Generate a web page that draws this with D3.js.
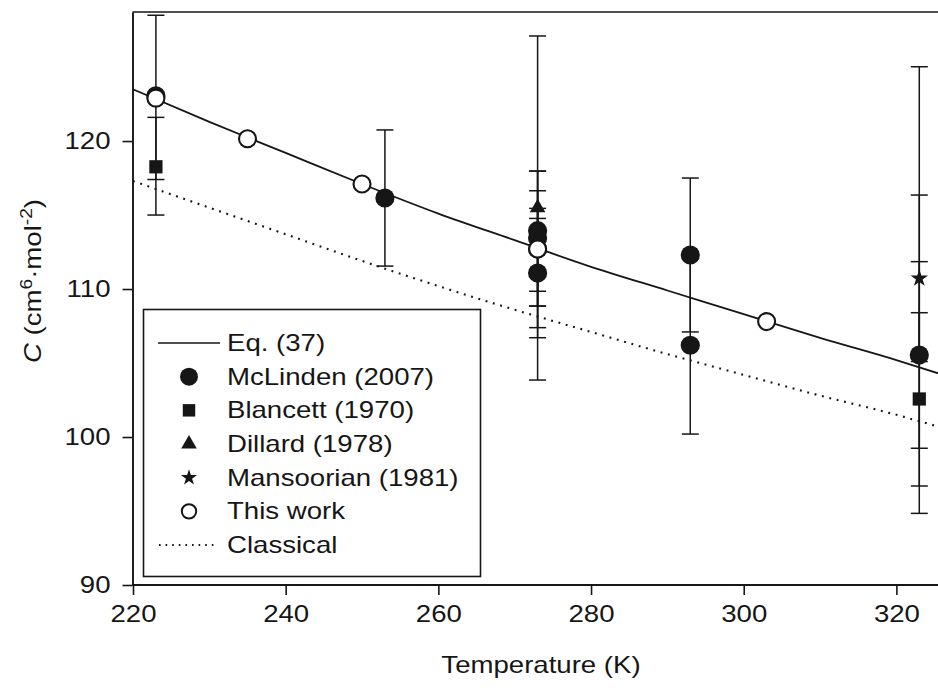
<!DOCTYPE html>
<html><head><meta charset="utf-8">
<script src="https://cdn.jsdelivr.net/npm/d3@7"></script>
<style>body{margin:0;background:#fff}svg{display:block}</style>
</head><body>
<svg id="c" width="938" height="688"></svg>
<script>
// ---- data ----
const xTicks = [220, 240, 260, 280, 300, 320];
const yTicks = [90, 100, 110, 120];
const eqT   = [220, 230, 240, 250, 260, 270, 280, 290, 300, 310, 320, 325.5];
const eqC   = [123.5, 121.3, 119.2, 117.1, 115.1, 113.3, 111.5, 109.9, 108.3, 106.7, 105.2, 104.3];
const clT   = [220, 230, 240, 250, 260, 270, 280, 290, 300, 310, 320, 325.5];
const clC   = [117.3, 115.5, 113.7, 111.9, 110.2, 108.6, 107.1, 105.6, 104.2, 102.8, 101.5, 100.7];
const mclT  = [223, 253, 273, 273, 273, 273, 293, 293, 323];
const mclC  = [123.05, 116.15, 113.94, 113.45, 112.7, 111.08, 112.3, 106.2, 105.54];
const blaT  = [223, 323];
const blaC  = [118.26, 102.57];
const dilT  = [273];
const dilC  = [115.5];
const manT  = [323];
const manC  = [110.72];
const twT   = [223, 235, 250, 273, 303];
const twC   = [122.9, 120.15, 117.1, 112.7, 107.8];
const errT  = [223, 223, 253, 273, 273, 273, 273, 273, 273, 293, 293, 323, 323, 323, 323];
const errLo = [117.4, 115.0, 111.55, 103.85, 109.85, 108.85, 108.85, 107.39, 106.71, 107.1, 100.2, 94.84, 105.1, 99.24, 96.69];
const errHi = [128.5, 121.6, 120.75, 127.1, 117.97, 117.97, 116.64, 114.77, 115.45, 117.5, 112.2, 125.02, 116.35, 111.85, 108.4];
const legendLabels = ["Eq. (37)", "McLinden (2007)", "Blancett (1970)", "Dillard (1978)", "Mansoorian (1981)", "This work", "Classical"];

// ---- layout ----
const SX = 1.2; // horizontal text stretch
const FS = 23;
const FONT = "'Liberation Sans', Arial, sans-serif";
const svg = d3.select("#c");
const x = d3.scaleLinear([220, 325.45], [133, 938]);
const y = d3.scaleLinear([90, 128.72], [585, 12]);
const ink = "#161616";

// frame (top line)
svg.append("line").attr("x1", 132.5).attr("x2", 938).attr("y1", 12).attr("y2", 12)
  .attr("stroke", ink).attr("stroke-width", 1.7);

// axes
const gx = svg.append("g").attr("transform", "translate(0,585)")
  .call(d3.axisBottom(x).tickValues(xTicks).tickSize(10).tickSizeOuter(0));
const gy = svg.append("g").attr("transform", "translate(132.5,0)")
  .call(d3.axisLeft(y).tickValues(yTicks).tickSize(10).tickSizeOuter(0));
[gx, gy].forEach(g => {
  g.select(".domain").attr("stroke", ink).attr("stroke-width", 1.9);
  g.selectAll(".tick line").attr("stroke", ink).attr("stroke-width", 1.6);
  g.selectAll("text").attr("font-family", FONT).attr("font-size", FS).attr("fill", ink);
});
gx.selectAll(".tick text").attr("y", 21).attr("transform", `scale(${SX},1)`);
gy.selectAll(".tick text").attr("x", -22 / SX).attr("transform", `scale(${SX},1)`);
gx.select(".domain").attr("d", `M${x(220) - 1},0H938`);

// axis titles
svg.append("g").attr("transform", "translate(541,665)")
  .append("text").attr("transform", `scale(${SX},1)`).attr("text-anchor", "middle").attr("dy", "0.35em")
  .attr("font-family", FONT).attr("font-size", FS).attr("fill", ink).text("Temperature (K)");
const yt = svg.append("g").attr("transform", "translate(33,281) rotate(-90)")
  .append("text").attr("transform", `scale(${SX},1)`).attr("text-anchor", "middle").attr("dy", "0.36em")
  .attr("font-family", FONT).attr("font-size", FS).attr("fill", ink);
yt.append("tspan").attr("font-style", "italic").text("C");
yt.append("tspan").text(" (cm");
yt.append("tspan").attr("font-size", 16).attr("dy", -9).text("6");
yt.append("tspan").attr("dy", 9).text("·mol");
yt.append("tspan").attr("font-size", 16).attr("dy", -9).text("-2");
yt.append("tspan").attr("dy", 9).text(")");

// clip for plot region
svg.append("clipPath").attr("id", "pc").append("rect").attr("x", 133).attr("y", 12).attr("width", 805).attr("height", 573);
const plot = svg.append("g").attr("clip-path", "url(#pc)");

const line = d3.line().x(d => x(d[0])).y(d => y(d[1])).curve(d3.curveMonotoneX);
plot.append("path").datum(clT.map((t, i) => [t, clC[i]])).attr("d", line)
  .attr("fill", "none").attr("stroke", ink).attr("stroke-width", 2.1).attr("stroke-dasharray", "1.9,5.7");
plot.append("path").datum(eqT.map((t, i) => [t, eqC[i]])).attr("d", line)
  .attr("fill", "none").attr("stroke", ink).attr("stroke-width", 1.8);

// error bars
const eb = plot.append("g").attr("stroke", ink).attr("stroke-width", 1.5);
errT.forEach((t, i) => {
  const cx = x(t), y1 = y(errLo[i]), y2 = y(errHi[i]);
  eb.append("line").attr("x1", cx).attr("x2", cx).attr("y1", y1).attr("y2", y2);
  eb.append("line").attr("x1", cx - 8.5).attr("x2", cx + 8.5).attr("y1", y1).attr("y2", y1);
  eb.append("line").attr("x1", cx - 8.5).attr("x2", cx + 8.5).attr("y1", y2).attr("y2", y2);
});

// markers
function sym(g, type, size, fill) {
  return g.append("path").attr("d", d3.symbol().type(type).size(size)()).attr("fill", fill);
}
const mk = plot.append("g");
mclT.forEach((t, i) => mk.append("circle").attr("cx", x(t)).attr("cy", y(mclC[i])).attr("r", 9.6).attr("fill", ink));
blaT.forEach((t, i) => sym(mk, d3.symbolSquare, 175, ink).attr("transform", `translate(${x(t)},${y(blaC[i])})`));
dilT.forEach((t, i) => sym(mk, d3.symbolTriangle, 105, ink).attr("transform", `translate(${x(t)},${y(dilC[i])})`));
manT.forEach((t, i) => sym(mk, d3.symbolStar, 95, ink).attr("transform", `translate(${x(t)},${y(manC[i])})`));
twT.forEach((t, i) => mk.append("circle").attr("cx", x(t)).attr("cy", y(twC[i])).attr("r", 8.5)
  .attr("fill", "#fff").attr("stroke", ink).attr("stroke-width", 2.1));

// legend
const lg = svg.append("g");
lg.append("rect").attr("x", 143.5).attr("y", 309.5).attr("width", 337).attr("height", 267)
  .attr("fill", "#fff").attr("stroke", ink).attr("stroke-width", 1.6);
const rowY = d3.scalePoint().domain(legendLabels).range([343, 545]);
const sx = 189;
legendLabels.forEach((lab, i) => {
  const ry = rowY(lab);
  if (i === 0) lg.append("line").attr("x1", 158).attr("x2", 220).attr("y1", ry).attr("y2", ry).attr("stroke", ink).attr("stroke-width", 1.6);
  if (i === 1) lg.append("circle").attr("cx", sx).attr("cy", ry).attr("r", 9).attr("fill", ink);
  if (i === 2) sym(lg, d3.symbolSquare, 155, ink).attr("transform", `translate(${sx},${ry})`);
  if (i === 3) sym(lg, d3.symbolTriangle, 105, ink).attr("transform", `translate(${sx},${ry})`);
  if (i === 4) sym(lg, d3.symbolStar, 80, ink).attr("transform", `translate(${sx},${ry})`);
  if (i === 5) lg.append("circle").attr("cx", sx).attr("cy", ry).attr("r", 7.2).attr("fill", "#fff").attr("stroke", ink).attr("stroke-width", 2);
  if (i === 6) lg.append("line").attr("x1", 159).attr("x2", 216).attr("y1", ry).attr("y2", ry).attr("stroke", ink).attr("stroke-width", 1.8).attr("stroke-dasharray", "1.6,5");
  lg.append("g").attr("transform", `translate(227,${ry})`).append("text").attr("transform", `scale(${SX},1)`)
    .attr("dy", "0.35em").attr("font-family", FONT).attr("font-size", FS).attr("fill", ink).text(lab);
});
</script>
</body></html>
